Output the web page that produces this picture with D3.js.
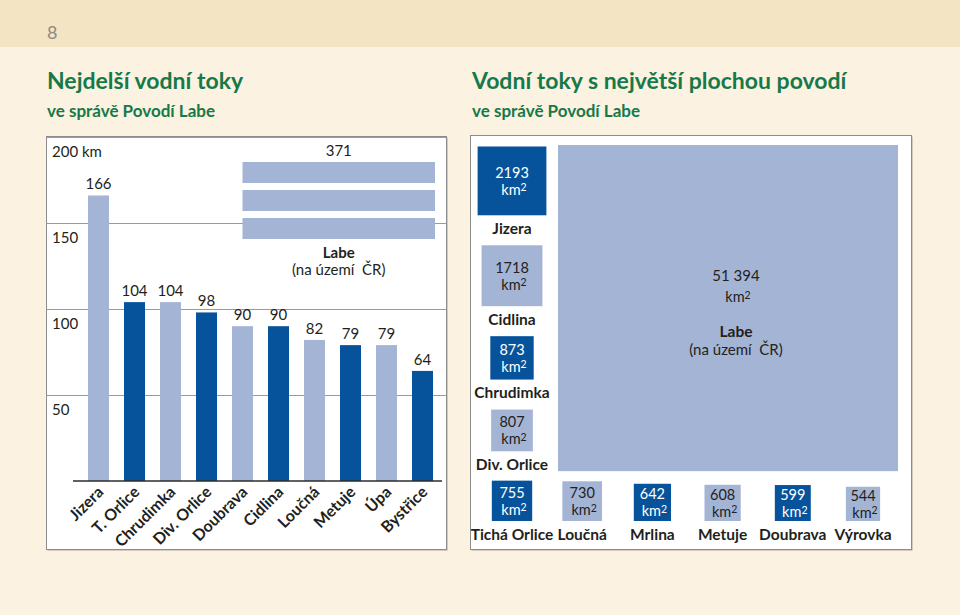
<!DOCTYPE html>
<html><head><meta charset="utf-8">
<script src="https://cdn.jsdelivr.net/npm/d3@7"></script>
<style>
html,body{margin:0;padding:0;background:#fcf2e1;}
svg{display:block;font-family:Lato,"Noto Sans",sans-serif;}
</style></head><body><div id="chart"></div>
<script>
// ---------- data ----------
const pageNumber = "8";
const lengthTitle = "Nejdelší vodní toky";
const areaTitle = "Vodní toky s největší plochou povodí";
const subtitle = "ve správě Povodí Labe";

const lengthRivers = ["Jizera","T. Orlice","Chrudimka","Div. Orlice","Doubrava","Cidlina","Loučná","Metuje","Úpa","Bystřice"];
const lengthValues = [166,104,104,98,90,90,82,79,79,64];
const lengthTicks = [50,100,150,200];
const lengthUnit = "km";

const labeName = "Labe";
const labeNote = "(na území\u00a0 ČR)";
const labeLength = 371;
const labeFolds = 3;

const areaColumnRivers = ["Jizera","Cidlina","Chrudimka","Div. Orlice"];
const areaColumnValues = [2193,1718,873,807];
const areaRowRivers = ["Tichá Orlice","Loučná","Mrlina","Metuje","Doubrava","Výrovka"];
const areaRowValues = [755,730,642,608,599,544];
const labeArea = 51394;
const areaUnitBase = "km", areaUnitExp = "2";

// ---------- style ----------
const W = 960, H = 615;
const LIGHT = "#a4b4d5", DARK = "#07539b", INK = "#231f20", GREEN = "#16794a";
const FONT = "Lato,'Noto Sans',sans-serif";
const shade = i => (i % 2 ? DARK : LIGHT);

const svg = d3.select("#chart").append("svg").attr("width", W).attr("height", H);
svg.append("rect").attr("width", W).attr("height", H).attr("fill", "#fcf2e1");
svg.append("rect").attr("width", W).attr("height", 47).attr("fill", "#f3e4c4");
svg.append("text").attr("x", 47).attr("y", 39).attr("font-size", 18).attr("fill", "#8f8a82").text(pageNumber);

function title(x, t) {
  svg.append("text").attr("x", x).attr("y", 89).attr("font-size", 23).attr("font-weight", 700).attr("fill", GREEN).text(t);
  svg.append("text").attr("x", x).attr("y", 117).attr("font-size", 17).attr("font-weight", 700).attr("fill", GREEN).text(subtitle);
}
title(47, lengthTitle);
title(472, areaTitle);

function panel(x0, y0, x1, y1) {
  svg.append("rect").attr("x", x0 + 1).attr("y", y0 + 1).attr("width", x1 - x0).attr("height", y1 - y0).attr("fill", "#a9a39a");
  svg.append("rect").attr("x", x0).attr("y", y0).attr("width", x1 - x0).attr("height", y1 - y0)
    .attr("fill", "#fff").attr("stroke", "#8d8d8d");
}
panel(46.5, 136.5, 446.5, 549.5);
panel(470.5, 135.5, 911.5, 549.5);

// ---------- left chart: lengths ----------
const y = d3.scaleLinear().domain([0, 200]).range([481, 137]);
const x = d3.scaleBand().domain(lengthRivers).range([80.5, 440.5]).paddingInner(0.4167).paddingOuter(0.2083);
const bw = x.bandwidth();

const gy = svg.append("g").attr("transform", "translate(46.5,0)")
  .call(d3.axisRight(y).tickValues(lengthTicks).tickSize(400)
    .tickFormat(d => d === 200 ? d + " " + lengthUnit : d));
gy.select(".domain").remove();
gy.selectAll(".tick line").attr("stroke", "#9a9a9a").attr("stroke-width", 1);
gy.selectAll(".tick text").attr("x", 5.5).attr("dy", 0).attr("y", 19)
  .attr("font-size", 15).attr("fill", INK).attr("font-family", FONT);

svg.selectAll(".lenbar").data(lengthValues).join("rect")
  .attr("x", (d, i) => x(lengthRivers[i])).attr("y", d => y(d))
  .attr("width", bw).attr("height", d => y(0) - y(d)).attr("fill", (d, i) => shade(i));

svg.selectAll(".lenval").data(lengthValues).join("text")
  .attr("x", (d, i) => x(lengthRivers[i]) + bw / 2).attr("y", d => y(d) - 6)
  .attr("text-anchor", "middle").attr("font-size", 15).attr("fill", INK).text(d => d);

const gx = svg.append("g").attr("transform", `translate(0,${y(0)})`)
  .call(d3.axisBottom(x).tickSize(0).tickSizeOuter(0));
gx.select(".domain").remove();
gx.selectAll(".tick text").attr("x", 0).attr("y", 0).attr("dy", 0)
  .attr("text-anchor", "end").attr("transform", "translate(6,12) rotate(-45)")
  .attr("font-size", 16).attr("font-weight", 700).attr("fill", INK)
  .attr("font-family", FONT);
svg.append("line").attr("x1", x.range()[0] - 7.5).attr("x2", x.range()[1] + 1.5)
  .attr("y1", y(0)).attr("y2", y(0)).attr("stroke", "#2b2b2b").attr("stroke-width", 1.5);

// Labe: folded bar
const foldX0 = x(lengthRivers[4]) + bw / 2;
const foldX1 = x(lengthRivers[lengthRivers.length - 1]) + bw + 2;
const folds = d3.range(labeFolds);
svg.selectAll(".fold").data(folds).join("rect")
  .attr("x", foldX0).attr("width", foldX1 - foldX0)
  .attr("y", i => y(200) + 25 + i * (bw + 7)).attr("height", bw).attr("fill", LIGHT);
const foldCx = (foldX0 + foldX1) / 2;
const foldBottom = y(200) + 25 + (labeFolds - 1) * (bw + 7) + bw;
svg.append("text").attr("x", foldCx).attr("y", y(200) + 19).attr("text-anchor", "middle")
  .attr("font-size", 15).attr("fill", INK).text(labeLength);
svg.append("text").attr("x", foldCx).attr("y", foldBottom + 19).attr("text-anchor", "middle")
  .attr("font-size", 15).attr("font-weight", 700).attr("fill", INK).text(labeName);
svg.append("text").attr("x", foldCx).attr("y", foldBottom + 36).attr("text-anchor", "middle")
  .attr("font-size", 15).attr("fill", INK).text(labeNote);

// ---------- right chart: basin areas ----------
const s = d3.scaleSqrt().domain([0, labeArea]).range([0, 333]);
const czFmt = d3.formatLocale({decimal: ",", thousands: " ", grouping: [3], currency: ["", " Kč"]}).format(",");
const fmtArea = v => v >= 10000 ? czFmt(v) : String(v);

function unitText(cx, yy, color) {
  const t = svg.append("text").attr("x", cx).attr("y", yy).attr("text-anchor", "middle")
    .attr("font-size", 14.5).attr("fill", color);
  t.append("tspan").text(areaUnitBase);
  t.append("tspan").attr("font-size", 10.5).attr("dy", -3.5).text(areaUnitExp);
}

function areaSquare(cx, top, v, i, name) {
  const side = s(v);
  const cy = top + side / 2;
  const fill = shade(i);
  const tc = fill === DARK ? "#fff" : INK;
  svg.append("rect").attr("x", cx - side / 2).attr("y", top).attr("width", side).attr("height", side).attr("fill", fill);
  svg.append("text").attr("x", cx).attr("y", cy - 3).attr("text-anchor", "middle").attr("font-size", 14.5).attr("fill", tc).text(fmtArea(v));
  unitText(cx + 2, cy + 14, tc);
  svg.append("text").attr("x", cx).attr("y", top + side + 18.5).attr("text-anchor", "middle")
    .attr("font-size", 15.5).attr("font-weight", 700).attr("fill", INK).text(name);
}

const colCx = 512;
let cur = 146.5;
areaColumnValues.forEach((v, i) => {
  areaSquare(colCx, cur, v, i + 1, areaColumnRivers[i]);
  cur += s(v) + 30;
});

const rowX = d3.scalePoint().domain(areaRowRivers).range([512, 863]);
const rowBottom = 521;
areaRowValues.forEach((v, i) => {
  areaSquare(rowX(areaRowRivers[i]), rowBottom - s(v), v, areaColumnValues.length + i + 1, areaRowRivers[i]);
});

// Labe: large area rectangle (area preserved, width fills panel)
const labeX0 = 558, labeX1 = 898, labeTop = 145;
const labeW = labeX1 - labeX0;
const labeH = s(labeArea) * s(labeArea) / labeW;
svg.append("rect").attr("x", labeX0).attr("y", labeTop).attr("width", labeW).attr("height", labeH).attr("fill", LIGHT);
const lcx = labeX0 + labeW / 2 + 8, lcy = labeTop + labeH / 2;
svg.append("text").attr("x", lcx).attr("y", lcy - 27).attr("text-anchor", "middle").attr("font-size", 15).attr("fill", INK).text(fmtArea(labeArea));
unitText(lcx + 2, lcy - 6, INK);
svg.append("text").attr("x", lcx).attr("y", lcy + 29).attr("text-anchor", "middle").attr("font-size", 15.5).attr("font-weight", 700).attr("fill", INK).text(labeName);
svg.append("text").attr("x", lcx).attr("y", lcy + 47).attr("text-anchor", "middle").attr("font-size", 15).attr("fill", INK).text(labeNote);
</script></body></html>
